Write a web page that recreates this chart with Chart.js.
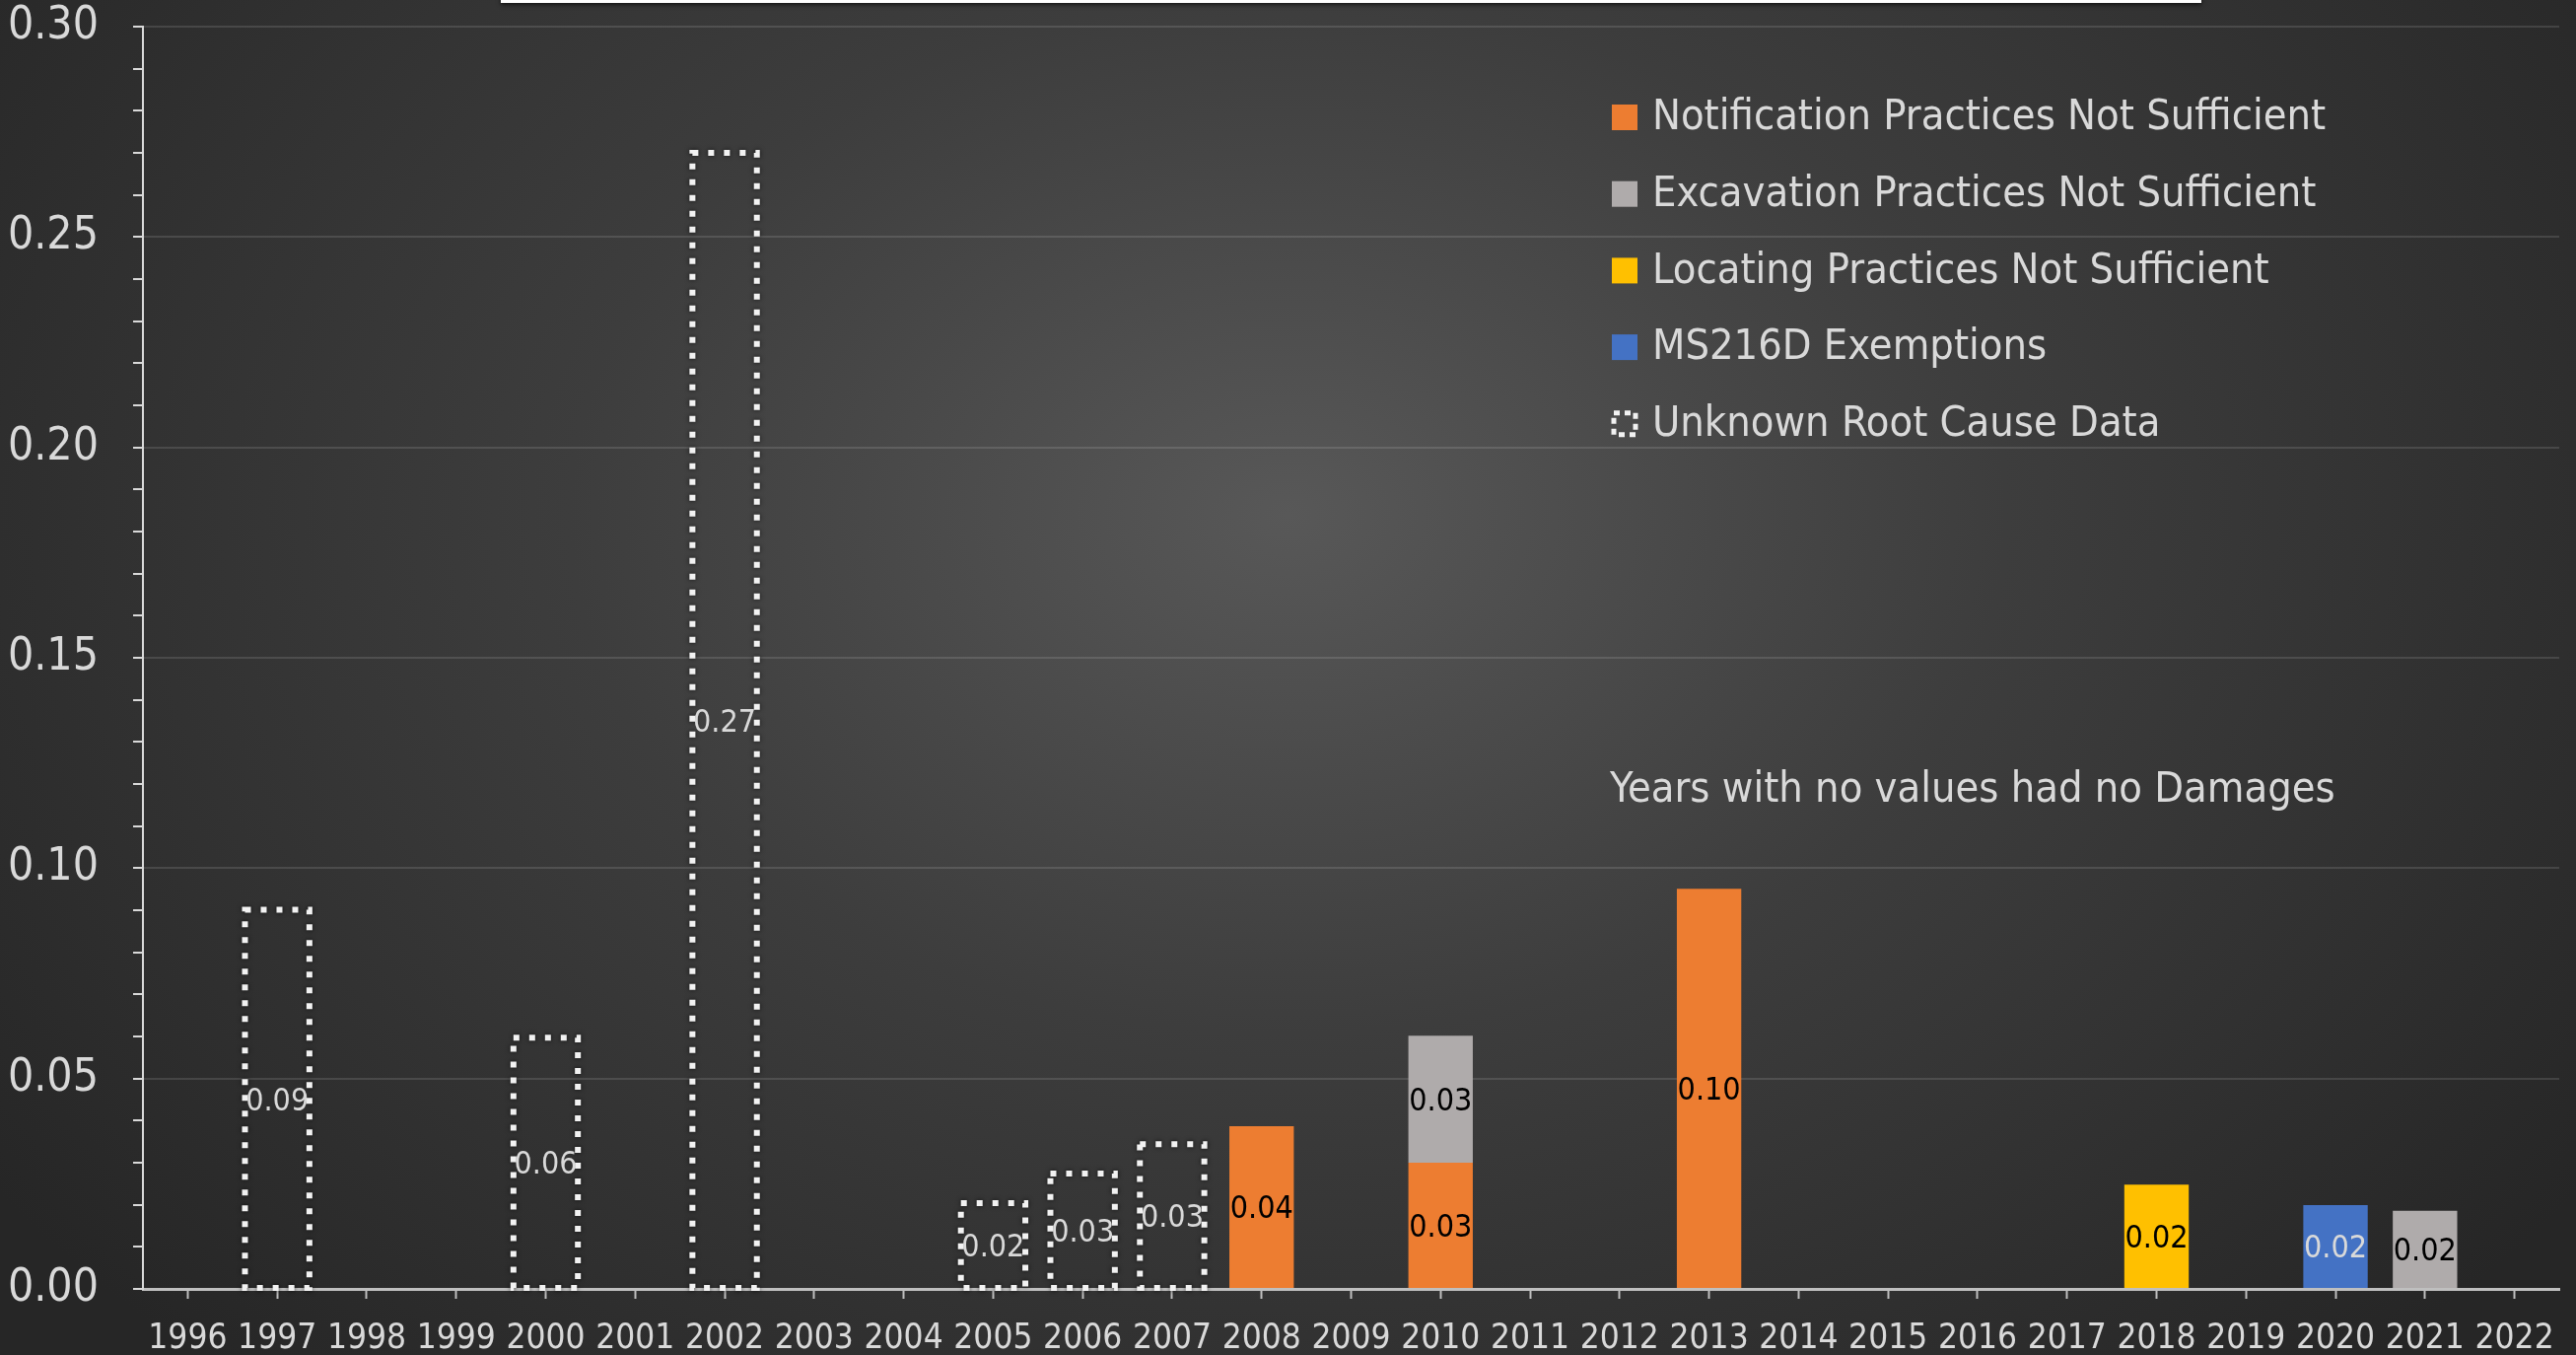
<!DOCTYPE html>
<html>
<head>
<meta charset="utf-8">
<script src="https://cdn.jsdelivr.net/npm/chart.js@4.4.0/dist/chart.umd.min.js"></script>
<style>
  html, body { margin: 0; padding: 0; background: #262626; }
  #wrap {
    position: relative; width: 2613px; height: 1374px; overflow: hidden;
    background: radial-gradient(ellipse 62% 85% at 50% 38%, #585858 0%, #3d3d3d 45%, #262626 100%);
  }
  #wrap canvas { position: absolute; left: 0; top: 0; }
  #titleEdge {
    position: absolute; left: 508px; top: -20px; width: 1725px; height: 23px;
    background: #fff; box-shadow: 0 2px 4px rgba(0,0,0,0.6);
  }
</style>
</head>
<body>
<div id="wrap">
  <canvas id="chart" width="2613" height="1374"></canvas>
  <div id="titleEdge"></div>
</div>
<script>
// years on the x axis
const years = ['1996','1997','1998','1999','2000','2001','2002','2003','2004','2005',
  '2006','2007','2008','2009','2010','2011','2012','2013','2014','2015',
  '2016','2017','2018','2019','2020','2021','2022'];

//                  96    97    98    99    00    01    02    03    04    05    06    07    08      09    10     11    12    13      14    15    16    17    18      19    20      21      22
const notification = [null, null, null, null, null, null, null, null, null, null, null, null, 0.0387, null, 0.030, null, null, 0.0951, null, null, null, null, null,   null, null,   null,   null];
const excavation   = [null, null, null, null, null, null, null, null, null, null, null, null, null,   null, 0.0302,null, null, null,   null, null, null, null, null,   null, null,   0.0186, null];
const locating     = [null, null, null, null, null, null, null, null, null, null, null, null, null,   null, null,  null, null, null,   null, null, null, null, 0.0248, null, null,   null,   null];
const exemptions   = [null, null, null, null, null, null, null, null, null, null, null, null, null,   null, null,  null, null, null,   null, null, null, null, null,   null, 0.0199, null,   null];
const unknown      = [null, 0.0901, null, null, 0.0597, null, 0.270, null, null, 0.0204, 0.0274, 0.0344, null, null, null, null, null, null, null, null, null, null, null, null, null, null, null];

const seriesNames = ['Notification Practices Not Sufficient', 'Excavation Practices Not Sufficient',
  'Locating Practices Not Sufficient', 'MS216D Exemptions', 'Unknown Root Cause Data'];
const seriesColors = ['#ED7D31', '#AFABAB', '#FFC000', '#4472C4', 'transparent'];
const labelColors = ['#000000', '#000000', '#000000', '#D9D9D9', '#D9D9D9'];

const yTicks = ['0.00', '0.05', '0.10', '0.15', '0.20', '0.25', '0.30'];
const note = 'Years with no values had no Damages';

const FONT = "'Liberation Sans Narrow', 'DejaVu Sans Condensed', 'Liberation Sans', sans-serif";
const TEXT = '#D9D9D9';

const extras = {
  id: 'extras',
  afterDatasetsDraw(chart) {
    const ctx = chart.ctx;
    // dotted outline for the unknown bars
    const unkIdx = 4;
    ctx.save();
    ctx.strokeStyle = '#F2F2F2';
    ctx.lineWidth = 6;
    ctx.setLineDash([6, 10]);
    ctx.shadowColor = 'rgba(0,0,0,0.7)';
    ctx.shadowBlur = 5;
    chart.getDatasetMeta(unkIdx).data.forEach((bar, i) => {
      if (unknown[i] == null) return;
      const p = bar.getProps(['x', 'y', 'base', 'width'], true);
      ctx.strokeRect(p.x - p.width / 2, p.y, p.width, p.base - p.y);
    });
    ctx.restore();

    // value labels
    ctx.save();
    ctx.font = '32px ' + FONT;
    ctx.textAlign = 'center';
    ctx.textBaseline = 'middle';
    chart.data.datasets.forEach((ds, di) => {
      chart.getDatasetMeta(di).data.forEach((bar, i) => {
        const v = ds.data[i];
        if (v == null) return;
        const p = bar.getProps(['x', 'y', 'base'], true);
        ctx.fillStyle = labelColors[di];
        ctx.fillText(v.toFixed(2), p.x, (p.y + p.base) / 2 + 3);
      });
    });
    ctx.restore();
  },
  afterDraw(chart) {
    const ctx = chart.ctx;
    ctx.save();
    ctx.font = '43px ' + FONT;
    ctx.textBaseline = 'middle';
    ctx.textAlign = 'left';
    const x0 = 1635, y0 = 119, gap = 77.7, box = 26;
    seriesNames.forEach((name, i) => {
      const y = y0 + i * gap;
      if (i === 4) {
        ctx.strokeStyle = '#F2F2F2';
        ctx.lineWidth = 5;
        ctx.setLineDash([6, 5]);
        ctx.strokeRect(x0 + 2, y - box / 2 + 2, box - 4, box - 4);
        ctx.setLineDash([]);
      } else {
        ctx.fillStyle = seriesColors[i];
        ctx.fillRect(x0, y - box / 2, box, box);
      }
      ctx.fillStyle = TEXT;
      ctx.fillText(name, 1676, y + 1);
    });
    ctx.fillText(note, 1633, 802);
    ctx.restore();
  }
};

new Chart(document.getElementById('chart'), {
  type: 'bar',
  data: {
    labels: years,
    datasets: [notification, excavation, locating, exemptions, unknown].map((d, i) => ({
      label: seriesNames[i],
      data: d,
      backgroundColor: seriesColors[i],
      borderWidth: 0
    }))
  },
  options: {
    responsive: false,
    animation: false,
    devicePixelRatio: 1,
    layout: { padding: { top: 27, right: 17, bottom: 0, left: 0 } },
    datasets: { bar: { barPercentage: 0.72, categoryPercentage: 1 } },
    plugins: { legend: { display: false }, tooltip: { enabled: false } },
    scales: {
      x: {
        stacked: true,
        grid: { offset: false, drawOnChartArea: false, tickLength: 10, tickColor: '#BFBFBF', tickWidth: 2 },
        border: { color: '#BFBFBF', width: 3 },
        ticks: { color: TEXT, font: { family: FONT, size: 35 }, padding: 20, maxRotation: 0, autoSkip: false },
        afterFit: s => { s.height = 67; }
      },
      y: {
        stacked: true,
        min: 0,
        max: 0.3,
        grid: {
          color: c => (c.index % 5 === 0 ? 'rgba(255,255,255,0.12)' : 'transparent'),
          lineWidth: 2, tickLength: 10, tickColor: '#D9D9D9', tickWidth: 2
        },
        border: { color: '#D9D9D9', width: 2 },
        ticks: {
          stepSize: 0.01, autoSkip: false, color: TEXT, padding: 35,
          font: { family: FONT, size: 46 },
          callback: (v, i) => (i % 5 === 0 ? yTicks[i / 5] : '')
        },
        afterFit: s => { s.width = 145; s.paddingTop = 0; s.paddingBottom = 0; }
      }
    }
  },
  plugins: [extras]
});
</script>
</body>
</html>
